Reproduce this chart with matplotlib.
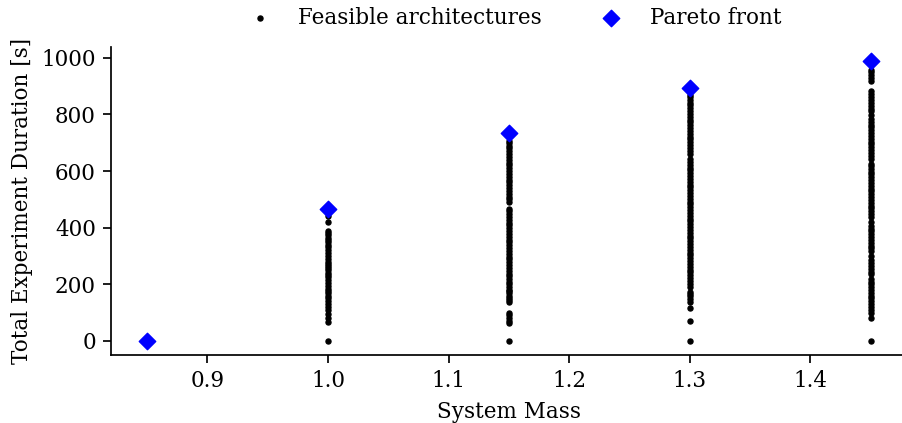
import matplotlib
matplotlib.use("Agg")
import matplotlib.pyplot as plt

# Feasible architectures: system mass -> experiment durations
mass_levels = [0.85, 1.0, 1.15, 1.3, 1.45]
dur_085 = [0]
dur_100 = [0, 68, 80, 95, 110, 120, 130, 140, 150, 160, 170, 178, 185, 195, 205,
           215, 225, 232, 240, 250, 258, 265, 272, 280, 290, 300, 310, 320, 330,
           340, 350, 358, 365, 375, 382, 388, 420, 441, 466]
dur_115 = [0, 64, 72, 82, 92, 100, 139, 145, 152, 160, 168, 175, 181, 192, 200,
           208, 217, 228, 238, 248, 258, 268, 278, 288, 298, 308, 318, 328, 338,
           348, 358, 368, 378, 388, 398, 408, 418, 428, 438, 448, 458, 466, 491,
           500, 510, 520, 530, 540, 550, 560, 570, 580, 590, 600, 610, 620, 630,
           640, 650, 660, 670, 680, 690, 698, 705, 733]
dur_130 = [0, 71, 117, 139, 148, 157, 166, 174, 192, 202, 212, 222, 232, 242, 252,
           262, 272, 282, 292, 302, 312, 322, 332, 342, 352, 362, 372, 382, 392,
           402, 412, 422, 432, 442, 452, 462, 472, 482, 492, 502, 512, 522, 532,
           542, 552, 562, 572, 582, 592, 602, 612, 622, 632, 644, 662, 672, 682,
           692, 702, 712, 722, 732, 742, 752, 762, 772, 782, 792, 802, 812, 822,
           832, 842, 852, 860, 868, 893]
dur_145 = [0, 82, 100, 110, 120, 130, 140, 150, 160, 170, 180, 190, 200, 208, 217,
           235, 245, 255, 265, 275, 285, 299, 317, 327, 337, 347, 357, 367, 377,
           387, 397, 407, 420, 438, 448, 458, 468, 478, 488, 498, 508, 518, 528,
           538, 548, 558, 568, 578, 588, 598, 608, 618, 626, 644, 654, 664, 674,
           684, 694, 704, 714, 724, 734, 744, 754, 764, 774, 784, 797, 811, 821,
           831, 841, 851, 861, 871, 883, 918, 930, 940, 950, 957, 989]
durations = [dur_085, dur_100, dur_115, dur_130, dur_145]

# Pareto front
pareto_mass = [0.85, 1.0, 1.15, 1.3, 1.45]
pareto_dur = [0, 466, 733, 893, 989]

FS = 15.5
K = 1.55
plt.rcParams['font.family'] = ['DejaVu Serif']
fig = plt.figure(figsize=(9.02, 4.23), dpi=100)
ax = fig.add_axes([0.123, 0.161, 0.8825, 0.728])

xs, ys = [], []
for m, d in zip(mass_levels, durations):
    xs.extend([m] * len(d))
    ys.extend(d)

ax.scatter(xs, ys, s=13, color='black', label='Feasible architectures', zorder=2)
ax.scatter(pareto_mass, pareto_dur, s=70, marker='D', color='blue',
           label='Pareto front', zorder=3)

ax.set_xlabel('System Mass', fontsize=FS, labelpad=4 * K)
ax.set_ylabel('Total Experiment Duration [s]', fontsize=FS, labelpad=4 * K)
ax.tick_params(labelsize=FS, length=3.5 * K, width=0.8 * K, pad=3.5 * K)
ax.set_yticks([0, 200, 400, 600, 800, 1000])
ax.set_xticks([0.9, 1.0, 1.1, 1.2, 1.3, 1.4])
ax.spines['top'].set_visible(False)
ax.spines['right'].set_visible(False)
ax.spines['left'].set_linewidth(0.8 * K)
ax.spines['bottom'].set_linewidth(0.8 * K)

fig.legend(*ax.get_legend_handles_labels(), loc='center',
           bbox_to_anchor=(0.565, 0.958), ncol=2, frameon=False,
           fontsize=FS, columnspacing=2.2, handletextpad=0.8)

fig.savefig('out.png', dpi=100)
